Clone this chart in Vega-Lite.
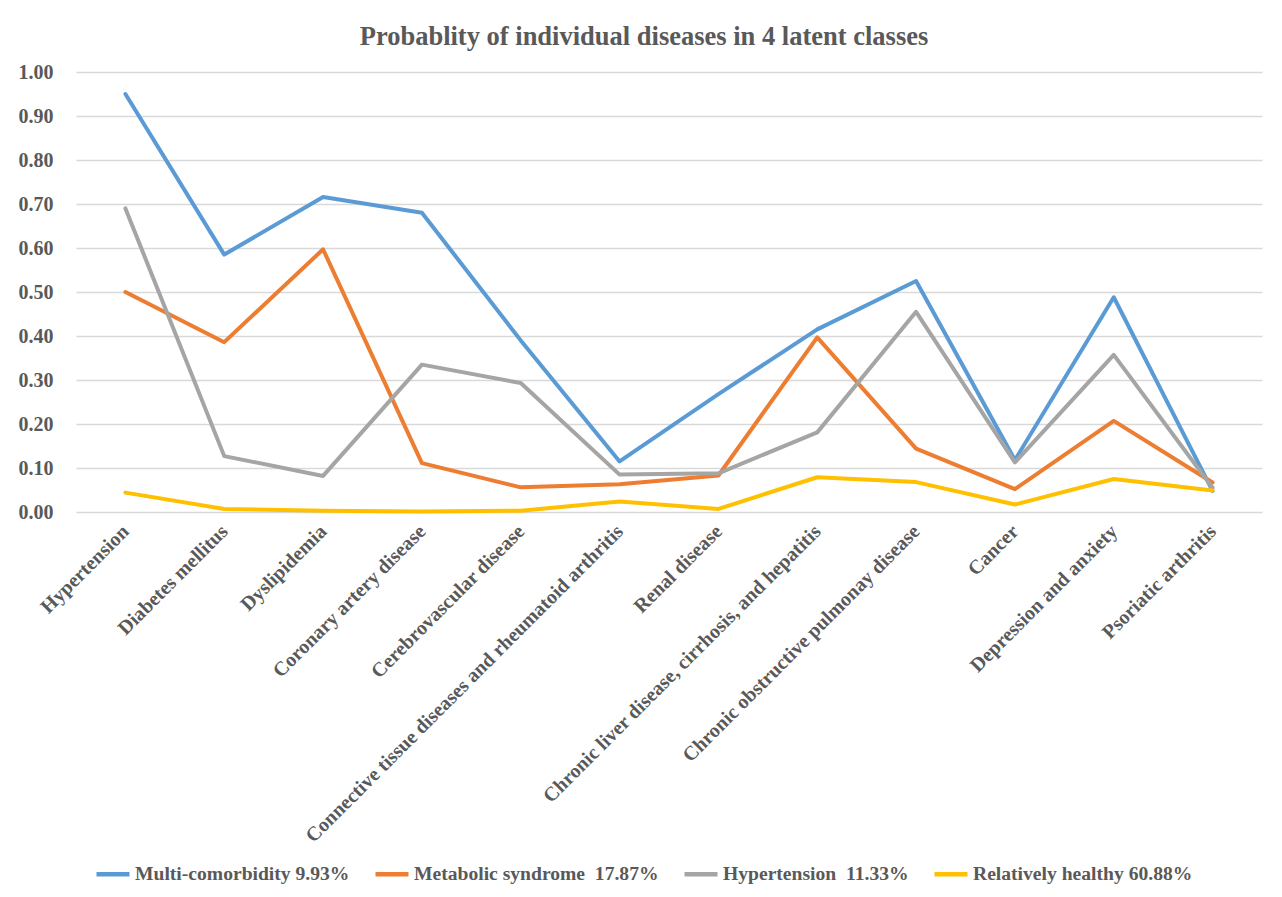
{
  "$schema": "https://vega.github.io/schema/vega-lite/v6.json",
  "width": 1186,
  "height": 440,
  "autosize": {"type": "none"},
  "padding": {"left": 76, "top": 72, "right": 20, "bottom": 385},
  "background": "white",
  "title": {
    "text": "Probablity of individual diseases in 4 latent classes",
    "font": "Liberation Serif",
    "fontSize": 26.5,
    "fontWeight": "bold",
    "color": "#595959",
    "anchor": "middle",
    "dx": -25,
    "offset": 12
  },
  "data": {
    "values": [
      {"disease": "Hypertension", "cls": "Multi-comorbidity 9.93%", "p": 0.95},
      {"disease": "Diabetes mellitus", "cls": "Multi-comorbidity 9.93%", "p": 0.585},
      {"disease": "Dyslipidemia", "cls": "Multi-comorbidity 9.93%", "p": 0.716},
      {"disease": "Coronary artery disease", "cls": "Multi-comorbidity 9.93%", "p": 0.68},
      {"disease": "Cerebrovascular disease", "cls": "Multi-comorbidity 9.93%", "p": 0.39},
      {"disease": "Connective tissue diseases and rheumatoid arthritis", "cls": "Multi-comorbidity 9.93%", "p": 0.115},
      {"disease": "Renal disease", "cls": "Multi-comorbidity 9.93%", "p": 0.268},
      {"disease": "Chronic liver disease, cirrhosis, and hepatitis", "cls": "Multi-comorbidity 9.93%", "p": 0.415},
      {"disease": "Chronic obstructive pulmonay disease", "cls": "Multi-comorbidity 9.93%", "p": 0.525},
      {"disease": "Cancer", "cls": "Multi-comorbidity 9.93%", "p": 0.118},
      {"disease": "Depression and anxiety", "cls": "Multi-comorbidity 9.93%", "p": 0.488},
      {"disease": "Psoriatic arthritis", "cls": "Multi-comorbidity 9.93%", "p": 0.048},
      {"disease": "Hypertension", "cls": "Metabolic syndrome  17.87%", "p": 0.5},
      {"disease": "Diabetes mellitus", "cls": "Metabolic syndrome  17.87%", "p": 0.386},
      {"disease": "Dyslipidemia", "cls": "Metabolic syndrome  17.87%", "p": 0.597},
      {"disease": "Coronary artery disease", "cls": "Metabolic syndrome  17.87%", "p": 0.111},
      {"disease": "Cerebrovascular disease", "cls": "Metabolic syndrome  17.87%", "p": 0.056},
      {"disease": "Connective tissue diseases and rheumatoid arthritis", "cls": "Metabolic syndrome  17.87%", "p": 0.063},
      {"disease": "Renal disease", "cls": "Metabolic syndrome  17.87%", "p": 0.083},
      {"disease": "Chronic liver disease, cirrhosis, and hepatitis", "cls": "Metabolic syndrome  17.87%", "p": 0.397},
      {"disease": "Chronic obstructive pulmonay disease", "cls": "Metabolic syndrome  17.87%", "p": 0.144},
      {"disease": "Cancer", "cls": "Metabolic syndrome  17.87%", "p": 0.052},
      {"disease": "Depression and anxiety", "cls": "Metabolic syndrome  17.87%", "p": 0.207},
      {"disease": "Psoriatic arthritis", "cls": "Metabolic syndrome  17.87%", "p": 0.067},
      {"disease": "Hypertension", "cls": "Hypertension  11.33%", "p": 0.69},
      {"disease": "Diabetes mellitus", "cls": "Hypertension  11.33%", "p": 0.127},
      {"disease": "Dyslipidemia", "cls": "Hypertension  11.33%", "p": 0.082},
      {"disease": "Coronary artery disease", "cls": "Hypertension  11.33%", "p": 0.335},
      {"disease": "Cerebrovascular disease", "cls": "Hypertension  11.33%", "p": 0.293},
      {"disease": "Connective tissue diseases and rheumatoid arthritis", "cls": "Hypertension  11.33%", "p": 0.085},
      {"disease": "Renal disease", "cls": "Hypertension  11.33%", "p": 0.088},
      {"disease": "Chronic liver disease, cirrhosis, and hepatitis", "cls": "Hypertension  11.33%", "p": 0.181},
      {"disease": "Chronic obstructive pulmonay disease", "cls": "Hypertension  11.33%", "p": 0.455},
      {"disease": "Cancer", "cls": "Hypertension  11.33%", "p": 0.113},
      {"disease": "Depression and anxiety", "cls": "Hypertension  11.33%", "p": 0.357},
      {"disease": "Psoriatic arthritis", "cls": "Hypertension  11.33%", "p": 0.055},
      {"disease": "Hypertension", "cls": "Relatively healthy 60.88%", "p": 0.044},
      {"disease": "Diabetes mellitus", "cls": "Relatively healthy 60.88%", "p": 0.007},
      {"disease": "Dyslipidemia", "cls": "Relatively healthy 60.88%", "p": 0.003},
      {"disease": "Coronary artery disease", "cls": "Relatively healthy 60.88%", "p": 0.001},
      {"disease": "Cerebrovascular disease", "cls": "Relatively healthy 60.88%", "p": 0.003},
      {"disease": "Connective tissue diseases and rheumatoid arthritis", "cls": "Relatively healthy 60.88%", "p": 0.024},
      {"disease": "Renal disease", "cls": "Relatively healthy 60.88%", "p": 0.007},
      {"disease": "Chronic liver disease, cirrhosis, and hepatitis", "cls": "Relatively healthy 60.88%", "p": 0.079},
      {"disease": "Chronic obstructive pulmonay disease", "cls": "Relatively healthy 60.88%", "p": 0.068},
      {"disease": "Cancer", "cls": "Relatively healthy 60.88%", "p": 0.017},
      {"disease": "Depression and anxiety", "cls": "Relatively healthy 60.88%", "p": 0.075},
      {"disease": "Psoriatic arthritis", "cls": "Relatively healthy 60.88%", "p": 0.049}
    ]
  },
  "mark": {"type": "line", "strokeWidth": 4, "strokeJoin": "round", "strokeCap": "round"},
  "encoding": {
    "x": {
      "field": "disease",
      "type": "nominal",
      "sort": null,
      "scale": {"type": "point", "padding": 0.5},
      "axis": {
        "title": null,
        "labelAngle": -45,
        "labelAlign": "right",
        "labelBaseline": "middle",
        "labelFont": "Liberation Serif",
        "labelFontWeight": "bold",
        "labelFontSize": 20,
        "labelColor": "#595959",
        "labelPadding": 16,
        "labelLimit": 600,
        "ticks": false,
        "domain": false,
        "grid": false
      }
    },
    "y": {
      "field": "p",
      "type": "quantitative",
      "scale": {"domain": [0, 1], "nice": false},
      "axis": {
        "title": null,
        "values": [0, 0.1, 0.2, 0.3, 0.4, 0.5, 0.6, 0.7, 0.8, 0.9, 1.0],
        "format": ".2f",
        "labelFont": "Liberation Serif",
        "labelFontWeight": "bold",
        "labelFontSize": 20,
        "labelColor": "#595959",
        "labelPadding": 23,
        "ticks": false,
        "domain": false,
        "grid": true,
        "gridColor": "#D9D9D9",
        "gridWidth": 1.3
      }
    },
    "color": {
      "field": "cls",
      "type": "nominal",
      "scale": {
        "domain": ["Multi-comorbidity 9.93%", "Metabolic syndrome  17.87%", "Hypertension  11.33%", "Relatively healthy 60.88%"],
        "range": ["#5B9BD5", "#ED7D31", "#A5A5A5", "#FFC000"]
      },
      "legend": {
        "title": null,
        "orient": "none",
        "legendX": 18,
        "legendY": 783,
        "direction": "horizontal",
        "columns": 4,
        "symbolType": "stroke",
        "symbolSize": 1089,
        "symbolStrokeWidth": 4.5,
        "labelFont": "Liberation Serif",
        "labelFontWeight": "bold",
        "labelFontSize": 19.6,
        "labelColor": "#595959",
        "labelOffset": 3,
        "labelExpr": "replace(datum.label, '  ', '\u00a0 ')",
        "columnPadding": 16,
        "labelLimit": 400
      }
    }
  },
  "config": {
    "view": {"stroke": null}
  }
}
